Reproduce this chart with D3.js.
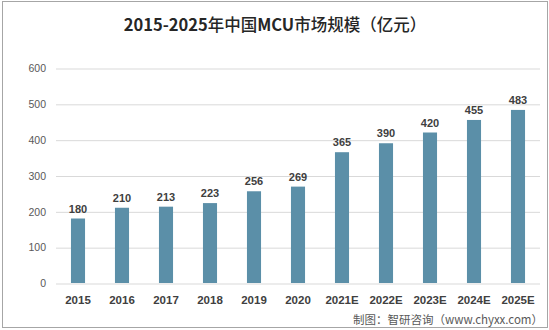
<!DOCTYPE html>
<html><head><meta charset="utf-8">
<script src="https://cdn.jsdelivr.net/npm/d3@7"></script>
<style>body{margin:0;background:#fff}svg{display:block}</style>
</head><body>
<script>
const categories = ["2015","2016","2017","2018","2019","2020","2021E","2022E","2023E","2024E","2025E"];
const values = [180,210,213,223,256,269,365,390,420,455,483];
const yTicks = [0,100,200,300,400,500,600];
const titleParts = [["2015-2025",true],["年中国",false],["MCU",true],["市场规模（亿元）",false]];
const source = "制图：智研咨询（www.chyxx.com）";

const W = 549, H = 330;
const svg = d3.select("body").append("svg").attr("width", W).attr("height", H);
svg.append("rect").attr("x",2.5).attr("y",1.5).attr("width",545).attr("height",326)
  .attr("fill","#fff").attr("stroke","#a6a6a6").attr("stroke-width",1);

const x = d3.scaleBand().domain(categories).range([56,540]).paddingInner(0.68).paddingOuter(0.34);
const y = d3.scaleLinear().domain([0,600]).range([283,68]);

const font = "'Liberation Sans','DejaVu Sans',Arial,sans-serif";
const cjk = "'Noto Sans CJK SC','Liberation Sans',sans-serif";

const tt = svg.append("text").attr("x",275).attr("y",31).attr("text-anchor","middle")
  .attr("font-family",cjk).attr("font-size",16.5).attr("fill","#262626");
titleParts.forEach(([s,b])=>{
  tt.append("tspan").attr("font-weight", b ? "bold" : "500").text(s);
});

const gy = svg.append("g").call(d3.axisLeft(y).tickValues(yTicks).tickSize(0).tickPadding(0));
gy.select(".domain").remove();
gy.selectAll(".tick line").remove();
gy.selectAll(".tick").each(function(d){
  d3.select(this).insert("line",":first-child").attr("x1",56).attr("x2",540)
    .attr("stroke","#d9d9d9").attr("stroke-width",1).attr("transform","translate(0,0.5)");
});
gy.selectAll(".tick text").attr("x",46).attr("dy","0.35em").attr("font-family",font).attr("font-size",10.5).attr("fill","#595959");

svg.selectAll(".bar").data(values).enter().append("rect")
  .attr("x",(d,i)=>x(categories[i])).attr("width",x.bandwidth())
  .attr("y",d=>y(d)).attr("height",d=>y(0)-y(d)).attr("fill","#5b8fa8");

svg.selectAll(".lbl").data(values).enter().append("text")
  .attr("x",(d,i)=>x(categories[i])+x.bandwidth()/2).attr("y",d=>y(d)-6)
  .attr("text-anchor","middle").attr("font-family",font).attr("font-weight","bold")
  .attr("font-size",11).attr("fill","#404040").text(d=>d);

const gx = svg.append("g").attr("transform","translate(0,283)").call(d3.axisBottom(x).tickSize(0).tickPadding(0));
gx.select(".domain").remove();
gx.selectAll(".tick text").attr("y",17).attr("dy","0.35em").attr("font-family",font).attr("font-weight","bold").attr("font-size",11.5).attr("fill","#404040");

svg.append("text").attr("x",543).attr("y",324).attr("text-anchor","end")
  .attr("font-family",cjk).attr("font-size",11.5).attr("fill","#595959").text(source);
</script>
</body></html>
